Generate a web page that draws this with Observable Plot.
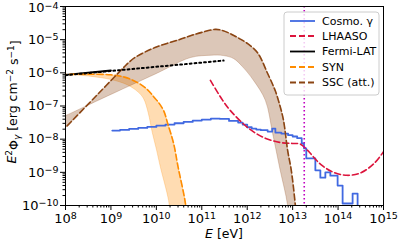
<!DOCTYPE html>
<html>
<head>
<meta charset="utf-8">
<script src="https://cdn.jsdelivr.net/npm/d3@7"></script>
<script src="https://cdn.jsdelivr.net/npm/@observablehq/plot@0.6"></script>
<style>
  html, body { margin: 0; padding: 0; background: white; }
  #chart { width: 399px; height: 245px; }
</style>
</head>
<body>
<div id="chart"></div>
<script>
// ---- data (log10 values) ----
const xTickExps = [8, 9, 10, 11, 12, 13, 14, 15];
const yTickExps = [-10, -9, -8, -7, -6, -5, -4];

// Fermi-LAT (black solid)
const fermiLogE = [8.0, 9.0];
const fermiLogF = [-6.06, -5.93];

// Extrapolation (black dotted)
const dotLogE = [8.0, 11.48];
const dotLogF = [-6.07, -5.63];

// SYN (orange dashed) and lower edge of its band
const synLogE = [7.9, 8.0, 8.5, 9.0, 9.3, 9.58, 9.8, 9.94, 10.04, 10.16, 10.25, 10.38, 10.48, 10.63, 10.7];
const synLogF = [-6.05, -6.05, -6.04, -6.06, -6.13, -6.29, -6.50, -6.72, -6.88, -7.14, -7.53, -8.13, -8.85, -9.85, -10.6];
const synLowLogE = [7.9, 8.3, 8.7, 9.0, 9.36, 9.6, 9.72, 9.82, 9.91, 10.0, 10.09, 10.27, 10.33];
const synLowLogF = [-6.05, -6.07, -6.13, -6.2, -6.36, -6.58, -6.78, -7.2, -7.8, -8.3, -8.85, -9.85, -10.5];

// SSC (att.) (brown dashed) and other edge of its band
const sscLogE = [7.9, 8.0, 8.7, 9.3, 9.39, 9.55, 10.0, 10.5, 10.75, 11.0, 11.3, 11.45, 11.63, 11.82, 12.01, 12.23, 12.45, 12.62, 12.73, 12.80, 12.89, 12.97, 13.06, 13.12];
const sscLogF = [-7.79, -7.65, -6.66, -5.81, -5.69, -5.52, -5.22, -5.00, -4.88, -4.78, -4.69, -4.72, -4.82, -4.96, -5.12, -5.40, -6.02, -6.55, -7.04, -7.44, -8.34, -8.94, -10.0, -11.0];
const sscLowLogE = [7.9, 8.0, 9.0, 10.0, 10.75, 11.2, 11.48, 11.70, 11.9, 12.14, 12.40, 12.56, 12.72, 12.89, 12.95];
const sscLowLogF = [-7.35, -7.29, -6.65, -6.02, -5.54, -5.47, -5.48, -5.57, -5.82, -6.23, -6.83, -7.83, -8.9, -10.0, -11.0];

// LHAASO sensitivity (red dashed)
const lhaasoLogE = [11.19, 11.46, 11.63, 12.01, 12.36, 12.73, 13.0, 13.17, 13.33, 13.61, 13.9, 14.2, 14.49, 14.78, 15.0];
const lhaasoLogF = [-6.23, -6.83, -7.14, -7.65, -7.95, -8.10, -8.13, -8.15, -8.34, -8.75, -9.0, -9.09, -9.02, -8.75, -8.38];

// Cosmo. gamma (blue step): bin left edges and values, last entry = right edge
const cosmoLogE = [9.03, 9.2, 9.4, 9.6, 9.8, 10.0, 10.2, 10.4, 10.6, 10.8, 11.0, 11.2, 11.4, 11.6, 11.8, 11.9, 12.0, 12.1, 12.2, 12.3, 12.45, 12.55, 12.62, 12.75, 12.9, 13.0, 13.1, 13.2, 13.25, 13.3, 13.5, 13.61, 13.72, 13.83, 13.99, 14.1, 14.32, 14.43, 14.5];
const cosmoLogF = [-7.74, -7.72, -7.69, -7.66, -7.63, -7.59, -7.56, -7.52, -7.48, -7.44, -7.41, -7.38, -7.39, -7.45, -7.50, -7.56, -7.64, -7.68, -7.71, -7.73, -7.77, -7.68, -7.80, -7.83, -7.88, -7.92, -7.97, -8.13, -8.28, -8.58, -8.94, -9.16, -9.0, -9.1, -9.4, -9.94, -9.64, -11.0];

// Source energy marker (magenta dotted)
const markerE = [1.8e13];

// Legend
const legendLabels = ["Cosmo. γ", "LHAASO", "Fermi-LAT", "SYN", "SSC (att.)"];
const legendColors = ["#4169e1", "#dc143c", "#000000", "#ff8c00", "#8b4513"];
const legendDash = [null, "6,3", null, "6,3", "6,3"];

// ---- helpers ----
const pts = (le, lf) => le.map((e, i) => ({x: 10 ** e, y: 10 ** lf[i]}));
const polygon = (le1, lf1, le2, lf2) => pts(le1, lf1).concat(pts(le2, lf2).reverse());

const fermi = pts(fermiLogE, fermiLogF);
const dotted = pts(dotLogE, dotLogF);
const syn = pts(synLogE, synLogF);
const synBand = polygon(synLogE, synLogF, synLowLogE, synLowLogF);
const ssc = pts(sscLogE, sscLogF);
const sscBand = polygon(sscLogE, sscLogF, sscLowLogE, sscLowLogF);
const lhaaso = pts(lhaasoLogE, lhaasoLogF);
const cosmo = cosmoLogE.map((e, i) => ({x: 10 ** e, y: 10 ** cosmoLogF[Math.min(i, cosmoLogF.length - 1)]}));

const majorX = xTickExps.map(e => 10 ** e);
const majorY = yTickExps.map(e => 10 ** e);
const minorX = [], minorY = [];
for (let e = xTickExps[0]; e < xTickExps[xTickExps.length - 1]; e++) for (let m = 2; m < 10; m++) minorX.push(m * 10 ** e);
for (let e = yTickExps[0]; e < yTickExps[yTickExps.length - 1]; e++) for (let m = 2; m < 10; m++) minorY.push(m * 10 ** e);

const expFmt = d => String(Math.round(Math.log10(d)));

const plot = Plot.plot({
  width: 399, height: 245,
  marginLeft: 65, marginRight: 16, marginTop: 6, marginBottom: 40,
  style: {fontFamily: "DejaVu Sans", color: "black", background: "white", overflow: "visible"},
  x: {type: "log", domain: [1e8, 1e15]},
  y: {type: "log", domain: [1e-10, 1e-4]},
  marks: [
    Plot.line(synBand, {x: "x", y: "y", fill: "#ff8c00", fillOpacity: 0.3, stroke: "#ff8c00", strokeOpacity: 0.25, strokeWidth: 1, curve: "catmull-rom", clip: true}),
    Plot.line(sscBand, {x: "x", y: "y", fill: "#8b4513", fillOpacity: 0.3, stroke: "#8b4513", strokeOpacity: 0.25, strokeWidth: 1, curve: "catmull-rom", clip: true}),
    Plot.line(cosmo, {x: "x", y: "y", stroke: "#4169e1", strokeWidth: 1.8, curve: "step-after", clip: true}),
    Plot.line(lhaaso, {x: "x", y: "y", stroke: "#dc143c", strokeWidth: 1.6, strokeDasharray: "6,3", curve: "catmull-rom", clip: true}),
    Plot.line(fermi, {x: "x", y: "y", stroke: "black", strokeWidth: 1.8, clip: true}),
    Plot.line(syn, {x: "x", y: "y", stroke: "#ff8c00", strokeWidth: 1.6, strokeDasharray: "6,3", curve: "catmull-rom", clip: true}),
    Plot.line(ssc, {x: "x", y: "y", stroke: "#8b4513", strokeWidth: 1.6, strokeDasharray: "6,3", curve: "catmull-rom", clip: true}),
    Plot.line(dotted, {x: "x", y: "y", stroke: "black", strokeWidth: 2, strokeDasharray: "1.8,3", clip: true}),
    Plot.ruleX(markerE, {stroke: "#c000c0", strokeWidth: 1.6, strokeDasharray: "1.5,2.5"}),
    Plot.axisX({ticks: minorX, tickSize: 2.5, tickFormat: () => "", label: null}),
    Plot.axisY({ticks: minorY, tickSize: 2.5, tickFormat: () => "", label: null}),
    Plot.axisX({ticks: majorX, tickSize: 5, tickPadding: 3, tickFormat: expFmt, fontSize: 13, label: null}),
    Plot.axisY({ticks: majorY, tickSize: 5, tickPadding: 2, tickFormat: expFmt, fontSize: 13, label: null}),
    Plot.frame({stroke: "black", strokeWidth: 1})
  ]
});

// Superscript tick labels
plot.querySelectorAll('g[aria-label$="tick label"] text').forEach(t => {
  const e = +t.textContent;
  if (isNaN(e) || t.textContent === "") return;
  t.textContent = "";
  const ns = "http://www.w3.org/2000/svg";
  const a = document.createElementNS(ns, "tspan"); a.textContent = "10";
  const b = document.createElementNS(ns, "tspan");
  b.textContent = e < 0 ? "\u2212" + (-e) : String(e);
  b.setAttribute("dy", "-0.36em"); b.setAttribute("font-size", "9.5px");
  t.appendChild(a); t.appendChild(b);
  if (e === yTickExps[yTickExps.length - 1]) t.setAttribute("y", "0.45em");
});

const svg = d3.select(plot);
// X label
const xl = svg.append("text").attr("x", 224).attr("y", 238).attr("text-anchor", "middle")
  .attr("font-size", 12.5).attr("fill", "black");
xl.append("tspan").attr("font-style", "italic").text("E");
xl.append("tspan").text(" [eV]");

// Y label
const yl = svg.append("text").attr("transform", "translate(16,102) rotate(-90)")
  .attr("text-anchor", "middle").attr("font-size", 12.5).attr("fill", "black");
yl.append("tspan").attr("font-style", "italic").text("E");
yl.append("tspan").attr("dy", "-0.45em").attr("font-size", "9px").text("2");
yl.append("tspan").attr("dy", "0.45em").text("Φ");
yl.append("tspan").attr("dy", "0.25em").attr("font-size", "9px").attr("font-style", "italic").text("γ");
yl.append("tspan").attr("dy", "-0.25em").text(" [erg cm");
yl.append("tspan").attr("dy", "-0.45em").attr("font-size", "9px").text("\u22122");
yl.append("tspan").attr("dy", "0.45em").text(" s");
yl.append("tspan").attr("dy", "-0.45em").attr("font-size", "9px").text("\u22121");
yl.append("tspan").attr("dy", "0.45em").text("]");

// Legend
const lg = svg.append("g").attr("text-anchor", "start");
lg.append("rect").attr("x", 284).attr("y", 12).attr("width", 95).attr("height", 83).attr("rx", 3)
  .attr("fill", "white").attr("fill-opacity", 0.8).attr("stroke", "#cccccc");
const rowY = [21, 36, 51.5, 67, 82.5];
legendLabels.forEach((lab, i) => {
  lg.append("line").attr("x1", 290).attr("x2", 315).attr("y1", rowY[i]).attr("y2", rowY[i])
    .attr("stroke", legendColors[i]).attr("stroke-width", 1.8)
    .attr("stroke-dasharray", legendDash[i]);
  lg.append("text").attr("x", 322).attr("y", rowY[i]).attr("dy", "0.36em")
    .attr("text-anchor", "start")
    .attr("font-size", 11).attr("fill", "black").text(lab);
});

document.getElementById("chart").appendChild(plot);
</script>
</body>
</html>
